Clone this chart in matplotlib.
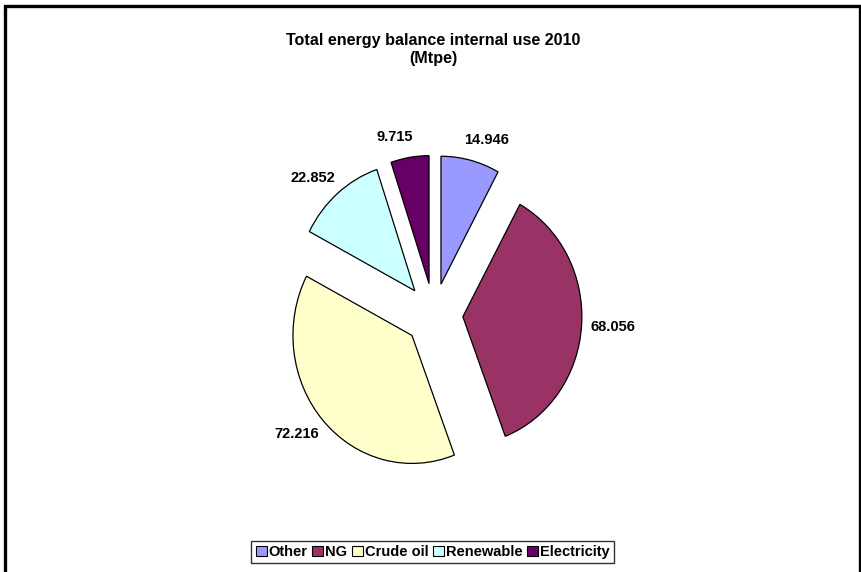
import matplotlib
matplotlib.use("Agg")
import numpy as np
import matplotlib.pyplot as plt
from matplotlib.patches import Rectangle, Patch

plt.rcParams['font.family'] = ['Liberation Sans', 'DejaVu Sans']

labels = ["Other", "NG", "Crude oil", "Renewable", "Electricity"]
values = [14.946, 68.056, 72.216, 22.852, 9.715]
colors = ["#9999FF", "#993366", "#FFFFCC", "#CCFFFF", "#660066"]
value_text = ["14.946", "68.056", "72.216", "22.852", "9.715"]

W, H = 862, 572
fig = plt.figure(figsize=(W / 100, H / 100), dpi=100)

# axes placed so the (unexploded) pie centre sits near (434, 315) px
ax = fig.add_axes([0.2823, 0.092, 0.4418, 0.716])
wedges, texts = ax.pie(values, colors=colors, startangle=90, counterclock=False,
                       explode=[0.245] * len(values), labels=value_text,
                       labeldistance=1.16,
                       wedgeprops=dict(edgecolor="black", linewidth=0.9),
                       textprops=dict(fontsize=10.5, fontweight="bold",
                                      ha="center", va="center"))
# excel pushes the value labels sideways, away from the pie
for t in texts:
    x, y = t.get_position()
    t.set_position((x + np.sign(x) * 0.1, y))

# pie is slightly taller than wide in the original
ax.set_aspect("auto")
ax.set_xlim(-1.6, 1.6)
ax.set_ylim(-1.6, 1.6)

fig.text(0.503, 0.9135, "Total energy balance internal use 2010\n(Mtpe)",
         ha="center", va="center", fontsize=11.6, fontweight="bold",
         linespacing=1.2)

handles = [Patch(facecolor=c, edgecolor="black", linewidth=0.8) for c in colors]
leg = fig.legend(handles, labels, loc="center", bbox_to_anchor=(0.502, 0.035),
                 ncol=5, frameon=True, fancybox=False, handlelength=0.75,
                 handleheight=0.75, handletextpad=0.15, columnspacing=0.3,
                 borderpad=0.3, borderaxespad=0,
                 prop=dict(weight="bold", size=10.5))
leg.get_frame().set_edgecolor("black")
leg.get_frame().set_linewidth(1.0)

# outer chart border
fig.patches.append(Rectangle((5.5 / W, -0.05), 855 / W, 1 - 5.5 / H + 0.05,
                             transform=fig.transFigure, fill=False,
                             edgecolor="black", linewidth=2.4))

fig.savefig("out.png", dpi=100)
